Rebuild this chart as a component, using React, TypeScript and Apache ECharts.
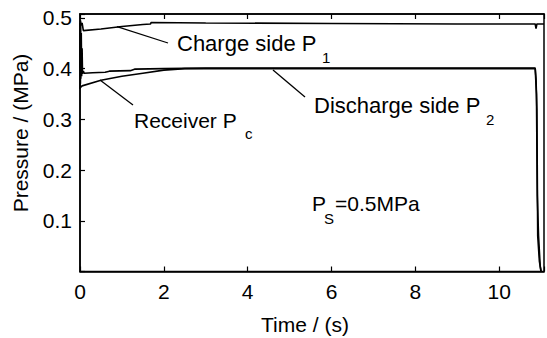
import React, { useEffect, useRef } from 'react';
import * as echarts from 'echarts';

// Charge side P1
const tP1 = [0, 0.01, 0.03, 0.05, 0.08, 0.5, 1.0, 1.5, 1.68, 1.7, 3, 6, 9, 10.86, 10.88, 10.9, 11.07];
const vP1 = [0.40, 0.495, 0.485, 0.49, 0.475, 0.478, 0.483, 0.487, 0.488, 0.491, 0.490, 0.489, 0.488, 0.488, 0.479, 0.488, 0.488];

// Discharge side P2
const tP2 = [0, 0.005, 0.01, 0.015, 0.02, 0.03, 0.04, 0.05, 0.06, 0.08, 0.1, 0.3, 0.6, 0.7, 1.2, 1.3, 2.0, 3.0, 5, 8, 10.86, 10.88, 10.9, 10.92, 10.96, 11.0];
const vP2 = [0.36, 0.49, 0.37, 0.485, 0.38, 0.47, 0.385, 0.44, 0.39, 0.395, 0.391, 0.392, 0.393, 0.395, 0.396, 0.399, 0.400, 0.401, 0.401, 0.401, 0.401, 0.38, 0.32, 0.07, 0.02, 0.0];

// Receiver Pc
const tPc = [0, 0.05, 0.5, 1.0, 1.5, 2.0, 2.5, 3.0, 6, 10.86, 10.89, 10.91, 10.94, 10.98, 11.0];
const vPc = [0.362, 0.366, 0.377, 0.385, 0.391, 0.397, 0.400, 0.400, 0.400, 0.400, 0.35, 0.15, 0.07, 0.01, 0];

const xTicks = [0, 2, 4, 6, 8, 10];
const yTicks = [0.1, 0.2, 0.3, 0.4, 0.5];

const FONT = 'Liberation Sans, Arial, sans-serif';

const pairs = (t: number[], v: number[]) => t.map((x, i) => [x, v[i]]);

export default function App() {
  const ref = useRef<HTMLDivElement>(null);
  useEffect(() => {
    if (!ref.current) return;
    const chart = echarts.init(ref.current, undefined, { renderer: 'svg' });
    const lineStyle = { color: '#000', width: 1.6 };
    const xLabelFmt = (v: number) => (xTicks.some((t) => Math.abs(t - v) < 1e-6) ? String(v) : '');
    const yLabelFmt = (v: number) => (yTicks.some((t) => Math.abs(t - v) < 1e-6) ? v.toFixed(1) : '');
    const txt = (text: string, x: number, y: number, size = 21, align = 'left') => ({
      type: 'text',
      x,
      y,
      style: { text, fontSize: size, fontFamily: FONT, fill: '#000', textAlign: align, textVerticalAlign: 'middle' },
    });
    const ln = (x1: number, y1: number, x2: number, y2: number) => ({
      type: 'line',
      shape: { x1, y1, x2, y2 },
      style: { stroke: '#000', lineWidth: 1.3 },
    });
    chart.setOption({
      animation: false,
      grid: { left: 80, top: 14, right: 0, bottom: 66.5, show: true, borderColor: '#000', borderWidth: 1.5, backgroundColor: 'transparent' },
      xAxis: [
        {
          type: 'value',
          min: 0,
          max: 11.07,
          interval: 2,
          axisLine: { show: true, lineStyle: { color: '#000', width: 1.5 } },
          axisTick: { show: true, inside: true, length: 5, lineStyle: { color: '#000', width: 1.2 } },
          axisLabel: { formatter: xLabelFmt, color: '#000', fontSize: 21, fontFamily: FONT, margin: 9 },
          splitLine: { show: false },
        },
        {
          type: 'value',
          position: 'top',
          min: 0,
          max: 11.07,
          interval: 2,
          axisLine: { show: true, lineStyle: { color: '#000', width: 1.5 } },
          axisTick: { show: true, inside: true, length: 5, lineStyle: { color: '#000', width: 1.2 } },
          axisLabel: { show: false },
          splitLine: { show: false },
        },
      ],
      yAxis: {
        type: 'value',
        min: 0,
        max: 0.5077,
        interval: 0.1,
        axisLine: { show: true, lineStyle: { color: '#000', width: 1.5 } },
        axisTick: { show: true, inside: true, length: 5, lineStyle: { color: '#000', width: 1.2 } },
        axisLabel: { formatter: yLabelFmt, color: '#000', fontSize: 21, fontFamily: FONT, margin: 8 },
        splitLine: { show: false },
      },
      series: [
        { type: 'line', name: 'Charge side P1', data: pairs(tP1, vP1), showSymbol: false, symbol: 'none', lineStyle, xAxisIndex: 0 },
        { type: 'line', name: 'Discharge side P2', data: pairs(tP2, vP2), showSymbol: false, symbol: 'none', lineStyle, xAxisIndex: 0 },
        { type: 'line', name: 'Receiver Pc', data: pairs(tPc, vPc), showSymbol: false, symbol: 'none', lineStyle, xAxisIndex: 0 },
      ],
      graphic: [
        ln(117, 26.7, 168, 43),
        ln(100, 80, 133, 105),
        ln(273, 70, 305, 97),
        txt('Charge side P', 177, 43, 22),
        txt('1', 322, 57, 15),
        txt('Discharge side P', 314, 105, 22),
        txt('2', 486, 119, 15),
        txt('Receiver P', 134, 120, 21),
        txt('c', 245, 133, 15),
        txt('P', 312, 203),
        txt('S', 324, 218, 15),
        txt('=0.5MPa', 335, 203),
        txt('Time / (s)', 305, 324, 21, 'center'),
        {
          type: 'text',
          x: 20,
          y: 133,
          rotation: Math.PI / 2,
          style: { text: 'Pressure / (MPa)', fontSize: 21, fontFamily: FONT, fill: '#000', textAlign: 'center', textVerticalAlign: 'middle' },
        },
      ],
    });
    return () => chart.dispose();
  }, []);
  return <div ref={ref} style={{ position: 'fixed', left: 0, top: 0, width: 547, height: 338, background: '#fff' }} />;
}
